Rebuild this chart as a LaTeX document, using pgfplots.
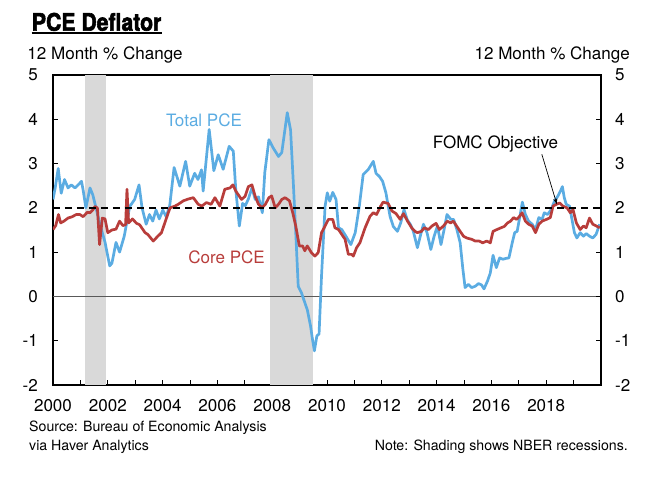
\documentclass[border=0pt]{standalone}
\usepackage{fontspec}
\setmainfont{TeX Gyre Heros}
\newfontfamily\titlefont{texgyreheros-bold.otf}[FakeBold=2.5]
\usepackage{pgfplots}
\pgfplotsset{compat=1.18}
\usetikzlibrary{arrows.meta}
\definecolor{pceblue}{RGB}{91,172,226}
\definecolor{pcered}{RGB}{184,61,59}
\definecolor{shade}{RGB}{217,217,217}
\newcommand{\lab}{\fontsize{17.1}{20}\selectfont}
\newcommand{\srcfont}{\fontsize{14.2}{17}\selectfont}
\begin{document}
\begin{tikzpicture}
\useasboundingbox (-53bp,-94bp) rectangle (614bp,385bp);
\begin{axis}[
  at={(0,0)}, anchor=south west,
  scale only axis, width=548bp, height=310bp,
  xmin=2000, xmax=2020, ymin=-2, ymax=5,
  axis line style={line width=1.1bp},
  tick align=inside,
  xtick pos=bottom, ytick pos=left,
  xtick={2000,2002,...,2018},
  xticklabels={2000,2002,2004,2006,2008,2010,2012,2014,2016,2018},
  minor xtick={2001,2003,...,2019},
  ytick={-2,-1,0,1,2,3,4,5},
  yticklabels={-2,-1,0,1,2,3,4,5},
  major tick length=5.5bp, minor tick length=5bp,
  tick style={black, line width=1bp},
  minor tick style={black, line width=1bp},
  ticklabel style={font=\lab},
  xticklabel style={inner sep=0pt, yshift=-14bp},
  yticklabel style={inner sep=0pt, xshift=-15bp},
  clip=true,
]
\addplot [fill=shade, draw=none] coordinates {(2001.17,-2) (2001.92,-2) (2001.92,5) (2001.17,5)} -- cycle;
\addplot [fill=shade, draw=none] coordinates {(2007.92,-2) (2009.50,-2) (2009.50,5) (2007.92,5)} -- cycle;
\addplot [color=black!65, line width=1.1bp] coordinates {(2000,0) (2020,0)};
\addplot [pceblue, line width=2.7bp, line join=round] table {
2000.00 2.19
2000.08 2.45
2000.19 2.89
2000.30 2.33
2000.42 2.64
2000.55 2.45
2000.67 2.52
2000.80 2.45
2000.92 2.52
2001.04 2.60
2001.10 2.40
2001.20 2.00
2001.35 2.45
2001.45 2.30
2001.53 2.10
2001.70 1.66
2001.90 1.22
2002.07 0.69
2002.15 0.75
2002.30 1.22
2002.43 1.00
2002.60 1.36
2002.80 2.03
2002.98 2.19
2003.14 2.52
2003.25 2.00
2003.40 1.63
2003.52 1.85
2003.64 1.70
2003.76 1.95
2003.88 1.75
2004.01 1.95
2004.13 1.80
2004.26 2.05
2004.42 2.91
2004.63 2.49
2004.84 3.05
2004.99 2.49
2005.17 2.78
2005.29 2.64
2005.42 2.86
2005.48 2.38
2005.70 3.77
2005.87 2.84
2006.03 3.20
2006.21 2.87
2006.43 3.39
2006.58 3.28
2006.67 2.42
2006.80 1.59
2006.92 2.10
2007.02 2.05
2007.13 2.20
2007.26 2.45
2007.38 2.19
2007.50 2.25
2007.64 1.89
2007.73 2.80
2007.88 3.54
2008.03 3.36
2008.23 3.16
2008.35 3.25
2008.43 3.61
2008.55 4.15
2008.67 3.76
2008.77 2.57
2008.86 1.44
2008.95 0.23
2009.07 0.08
2009.19 -0.14
2009.28 -0.30
2009.40 -0.67
2009.47 -0.97
2009.54 -1.23
2009.63 -0.89
2009.71 -0.85
2009.80 0.46
2009.93 2.04
2010.01 2.34
2010.10 2.15
2010.21 2.35
2010.33 2.19
2010.42 1.55
2010.54 1.51
2010.69 1.36
2010.87 1.17
2011.03 1.44
2011.18 2.04
2011.32 2.75
2011.51 2.87
2011.69 3.05
2011.79 2.78
2011.91 2.71
2012.03 2.60
2012.15 2.34
2012.30 1.81
2012.42 1.58
2012.57 1.47
2012.69 1.66
2012.81 1.96
2012.93 1.73
2013.05 1.62
2013.15 1.47
2013.30 1.10
2013.42 1.40
2013.52 1.63
2013.65 1.44
2013.79 1.06
2013.91 1.36
2014.03 1.59
2014.16 1.17
2014.26 1.47
2014.38 1.85
2014.52 1.74
2014.62 1.74
2014.74 1.51
2014.86 1.21
2014.96 0.61
2015.04 0.20
2015.16 0.27
2015.28 0.20
2015.41 0.23
2015.53 0.29
2015.64 0.26
2015.73 0.17
2015.86 0.35
2015.96 0.53
2016.06 0.93
2016.18 0.65
2016.30 0.87
2016.42 0.84
2016.54 0.86
2016.64 0.87
2016.76 1.21
2016.85 1.44
2016.94 1.47
2017.04 1.81
2017.13 2.13
2017.24 1.85
2017.36 1.70
2017.49 1.63
2017.61 1.51
2017.73 1.78
2017.85 1.74
2017.93 1.89
2018.05 1.85
2018.18 1.96
2018.30 2.15
2018.42 2.26
2018.52 2.38
2018.59 2.48
2018.66 2.23
2018.73 2.08
2018.85 2.04
2018.94 1.74
2019.03 1.44
2019.12 1.32
2019.24 1.44
2019.36 1.36
2019.46 1.42
2019.58 1.36
2019.70 1.32
2019.82 1.40
2019.95 1.63
};
\addplot [pcered, line width=2.7bp, line join=round] table {
2000.00 1.51
2000.10 1.60
2000.20 1.85
2000.28 1.66
2000.40 1.70
2000.55 1.77
2000.70 1.80
2000.85 1.85
2000.98 1.85
2001.10 1.80
2001.25 1.90
2001.35 1.89
2001.45 1.95
2001.53 2.03
2001.62 2.00
2001.70 1.17
2001.80 1.77
2001.90 1.75
2002.00 1.44
2002.15 1.50
2002.30 1.52
2002.43 1.70
2002.55 1.60
2002.65 1.62
2002.70 2.42
2002.76 1.66
2002.90 1.75
2003.05 1.65
2003.16 1.62
2003.36 1.44
2003.46 1.40
2003.66 1.25
2003.81 1.35
2003.96 1.44
2004.08 1.66
2004.27 2.00
2004.45 2.04
2004.57 2.08
2004.76 2.16
2004.94 2.20
2005.12 2.23
2005.30 2.08
2005.43 2.04
2005.60 2.12
2005.77 2.08
2005.91 2.23
2006.09 2.04
2006.27 2.42
2006.46 2.45
2006.57 2.52
2006.67 2.38
2006.88 2.19
2007.01 2.26
2007.13 2.48
2007.26 2.52
2007.38 2.26
2007.50 2.08
2007.63 2.00
2007.75 2.08
2007.88 2.23
2007.98 2.27
2008.11 2.00
2008.23 2.08
2008.35 2.19
2008.47 2.23
2008.63 2.16
2008.75 1.89
2008.86 1.59
2008.99 1.14
2009.11 1.14
2009.19 1.03
2009.28 1.14
2009.43 0.99
2009.56 0.91
2009.68 0.99
2009.80 1.44
2009.93 1.59
2010.05 1.74
2010.21 1.74
2010.29 1.55
2010.42 1.51
2010.54 1.40
2010.66 1.29
2010.78 0.95
2010.90 0.95
2010.96 0.91
2011.08 1.10
2011.20 1.21
2011.39 1.55
2011.57 1.81
2011.69 1.89
2011.81 1.85
2011.96 2.04
2012.05 2.13
2012.23 2.10
2012.37 1.93
2012.52 1.87
2012.67 1.74
2012.79 1.87
2012.94 1.70
2013.09 1.55
2013.21 1.47
2013.30 1.44
2013.45 1.47
2013.55 1.55
2013.70 1.51
2013.83 1.59
2013.98 1.65
2014.10 1.51
2014.25 1.59
2014.39 1.70
2014.51 1.66
2014.61 1.70
2014.73 1.59
2014.86 1.47
2014.98 1.36
2015.10 1.32
2015.28 1.29
2015.41 1.25
2015.56 1.25
2015.68 1.21
2015.83 1.25
2015.96 1.21
2016.06 1.47
2016.20 1.51
2016.35 1.55
2016.47 1.58
2016.59 1.66
2016.70 1.70
2016.81 1.78
2016.92 1.74
2017.03 1.81
2017.12 1.89
2017.24 1.70
2017.36 1.63
2017.49 1.59
2017.61 1.44
2017.73 1.63
2017.85 1.70
2018.01 1.74
2018.15 1.78
2018.25 2.04
2018.37 2.08
2018.49 2.11
2018.61 2.04
2018.76 2.00
2018.88 1.89
2018.98 1.96
2019.10 1.66
2019.24 1.51
2019.36 1.59
2019.46 1.55
2019.58 1.77
2019.70 1.63
2019.83 1.59
2019.95 1.55
};
\addplot [black, line width=1.8bp, dash pattern=on 7bp off 5bp] coordinates {(2000,2) (2020,2)};
\node [anchor=base west, inner sep=0pt, text=pceblue, font=\lab] at (axis cs:2004.12,3.84) {Total PCE};
\node [anchor=base west, inner sep=0pt, text=pcered, font=\lab] at (axis cs:2004.93,0.745) {Core PCE};
\node [anchor=base west, inner sep=0pt, font=\lab] at (axis cs:2013.86,3.33) {FOMC Objective};
\draw [-{Stealth[length=6bp,width=4bp]}, line width=0.7bp] (axis cs:2017.84,3.21) -- (axis cs:2018.39,2.08);
\end{axis}
\begin{axis}[
  at={(0,0)}, anchor=south west,
  scale only axis, width=548bp, height=310bp,
  xmin=2000, xmax=2020, ymin=-2, ymax=5,
  axis x line=none, axis y line*=right,
  axis line style={line width=1.1bp},
  tick align=inside,
  ytick={-2,-1,0,1,2,3,4,5},
  yticklabels={-2,-1,0,1,2,3,4,5},
  major tick length=5.5bp,
  tick style={black, line width=1bp},
  ticklabel style={font=\lab},
  yticklabel style={anchor=west, inner sep=0pt, xshift=14bp},
]
\end{axis}
\node [anchor=base west, inner sep=0pt] (t) at (-21.3bp,354.3bp) {\scalebox{0.88}[1]{\fontsize{24.2}{28}\selectfont\titlefont PCE Deflator}};
\draw [line width=2bp] ([yshift=-2.8bp]t.base west) -- ([yshift=-2.8bp]t.base east);
\node [anchor=base west, inner sep=0pt, font=\lab] at (-25.7bp,325.7bp) {12 Month \% Change};
\node [anchor=base east, inner sep=0pt, font=\lab] at (577bp,325.7bp) {12 Month \% Change};
\node [anchor=base west, inner sep=0pt, font=\srcfont] at (-24bp,-46bp) {Source: Bureau of Economic Analysis};
\node [anchor=base west, inner sep=0pt, font=\srcfont] at (-24bp,-65bp) {via Haver Analytics};
\node [anchor=base east, inner sep=0pt, font=\srcfont] at (575bp,-65bp) {Note: Shading shows NBER recessions.};
\end{tikzpicture}
\end{document}
